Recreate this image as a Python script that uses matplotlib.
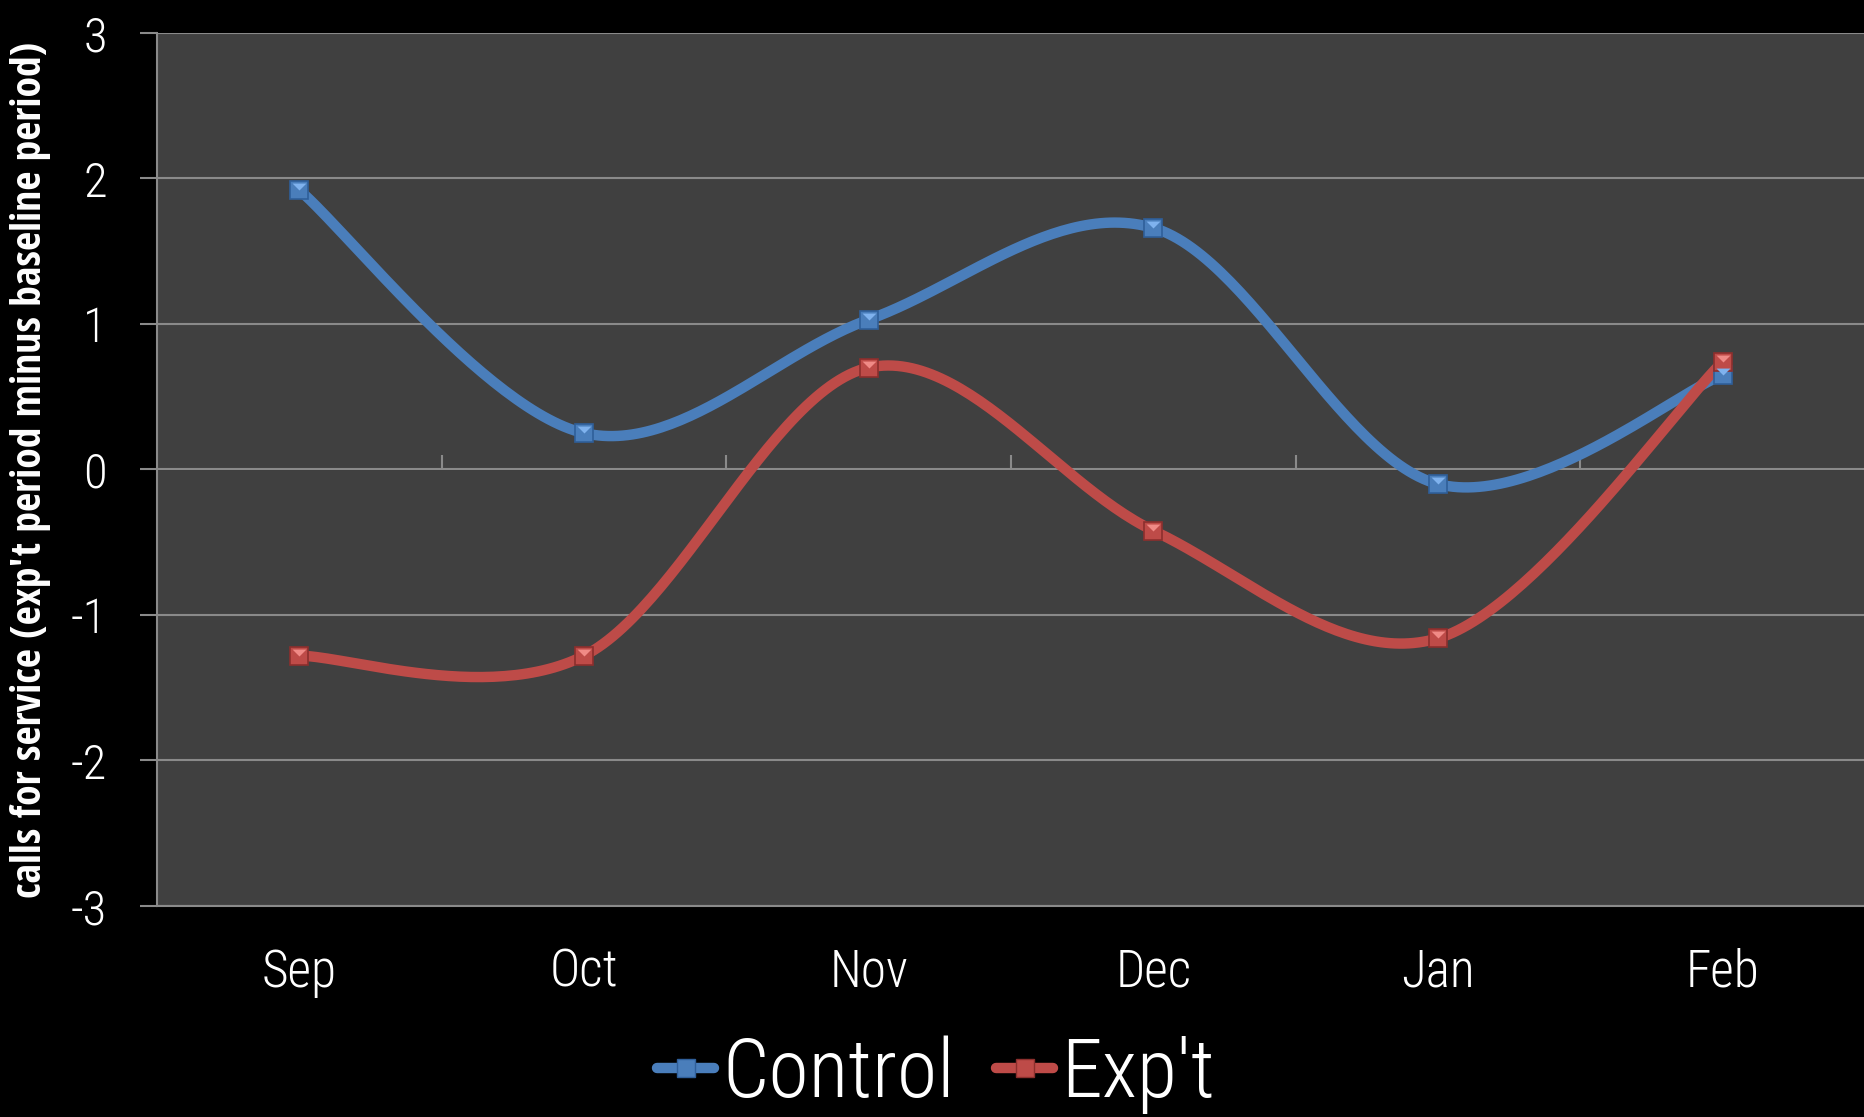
import numpy as np
import matplotlib
matplotlib.use("Agg")
import matplotlib.pyplot as plt
from matplotlib import font_manager
from matplotlib.path import Path
from matplotlib.lines import Line2D

months = ["Sep", "Oct", "Nov", "Dec", "Jan", "Feb"]
control = [1.92, 0.25, 1.03, 1.66, -0.10, 0.65]
expt = [-1.28, -1.28, 0.70, -0.42, -1.16, 0.74]
series_names = ["Control", "Exp't"]
yticks = [-3, -2, -1, 0, 1, 2, 3]
ylabel = "calls for service (exp't period minus baseline period)"

names = {f.name for f in font_manager.fontManager.ttflist}
BOLDFONT = "Open Sans Condensed" if "Open Sans Condensed" in names else "Open Sans"
LIGHTFONT = "Roboto Condensed" if "Roboto Condensed" in names else "Roboto"
plt.rcParams["font.family"] = [LIGHTFONT, "DejaVu Sans"]
LIGHT = dict(family=[LIGHTFONT, "DejaVu Sans"], weight=300)

BLUE = "#4a7ebb"
BLUE_D = "#2f5f9a"
BLUE_L = "#7fb2ee"
RED = "#be4b48"
RED_D = "#8c2f2d"
RED_L = "#f08a86"


def smooth(y, n=60):
    """Catmull-Rom style Bezier smoothing (like spreadsheet smoothed lines)."""
    y = np.asarray(y, float)
    x = np.arange(len(y), dtype=float)
    P = np.column_stack([x, y])
    Pe = np.vstack([P[0], P, P[-1]])
    out = []
    t = np.linspace(0, 1, n)[:, None]
    for i in range(len(P) - 1):
        p0, p3 = P[i], P[i + 1]
        c1 = p0 + (Pe[i + 2] - Pe[i]) / 6
        c2 = p3 - (Pe[i + 3] - Pe[i + 1]) / 6
        seg = ((1 - t) ** 3) * p0 + 3 * ((1 - t) ** 2) * t * c1 + 3 * (1 - t) * t ** 2 * c2 + t ** 3 * p3
        out.append(seg if i == 0 else seg[1:])
    s = np.vstack(out)
    return s[:, 0], s[:, 1]


tri = Path([(-1, 1), (1, 1), (0, 0), (-1, 1)],
           [Path.MOVETO, Path.LINETO, Path.LINETO, Path.CLOSEPOLY])

fig = plt.figure(figsize=(18.65, 11.17), dpi=100, facecolor="black")
ax = fig.add_axes([0.0842, 0.1889, 0.9158, 0.7816])
ax.set_facecolor("#404040")

x = np.arange(len(months))
for vals, c, cd, cl in [(control, BLUE, BLUE_D, BLUE_L), (expt, RED, RED_D, RED_L)]:
    sx, sy = smooth(vals)
    ax.plot(sx, sy, color=c, lw=7.5, solid_capstyle="round", zorder=3)
    ax.plot(x, vals, ls="none", marker="s", ms=13, mfc=c, mec=cd, mew=1.2, zorder=4)
    ax.plot(x, vals, ls="none", marker=tri, ms=10, mfc=cl, mec="none", zorder=5)

ax.set_xlim(-0.5, len(months) - 0.5)
ax.set_ylim(-3, 3)
ax.set_yticks(yticks)
ax.set_yticklabels([str(v) for v in yticks], color="white", fontsize=35, **LIGHT)
ax.set_xticks(x)
ax.set_xticklabels(months, color="white", fontsize=37, **LIGHT)
ax.tick_params(axis="x", length=0, pad=30)
ax.tick_params(axis="y", length=12, width=1.5, color="#8a8a8a", pad=24)
ax.grid(axis="y", color="#8a8a8a", lw=1.5)
ax.set_axisbelow(True)
for s in ["top", "right"]:
    ax.spines[s].set_visible(False)
for s in ["left", "bottom"]:
    ax.spines[s].set_color("#8a8a8a")
    ax.spines[s].set_linewidth(1.5)

sec = ax.secondary_xaxis(0.5)
sec.set_xticks(np.arange(len(months) - 1) + 0.5)
sec.set_xticklabels([])
sec.tick_params(length=10, width=1.5, color="#8a8a8a", direction="out")
sec.spines["bottom"].set_color("#8a8a8a")
sec.spines["bottom"].set_linewidth(1.5)

ax.set_ylabel(ylabel, color="white", fontsize=30, fontweight="bold",
              family=[BOLDFONT, "DejaVu Sans"])
ax.yaxis.set_label_coords(-0.062, 0.5)

handles = []
for c, cd, cl in [(BLUE, BLUE_D, BLUE_L), (RED, RED_D, RED_L)]:
    handles.append(Line2D([], [], color=c, lw=7.5, solid_capstyle="round",
                          marker="s", ms=13, mfc=c, mec=cd))
leg = fig.legend(handles, series_names, loc="center", bbox_to_anchor=(0.502, 0.038),
                 ncol=2, frameon=False, labelcolor="white",
                 prop=dict(size=59, **LIGHT),
                 handlelength=0.7, handletextpad=0.1, columnspacing=0.5)

fig.savefig("out.png", dpi=100, facecolor="black")
